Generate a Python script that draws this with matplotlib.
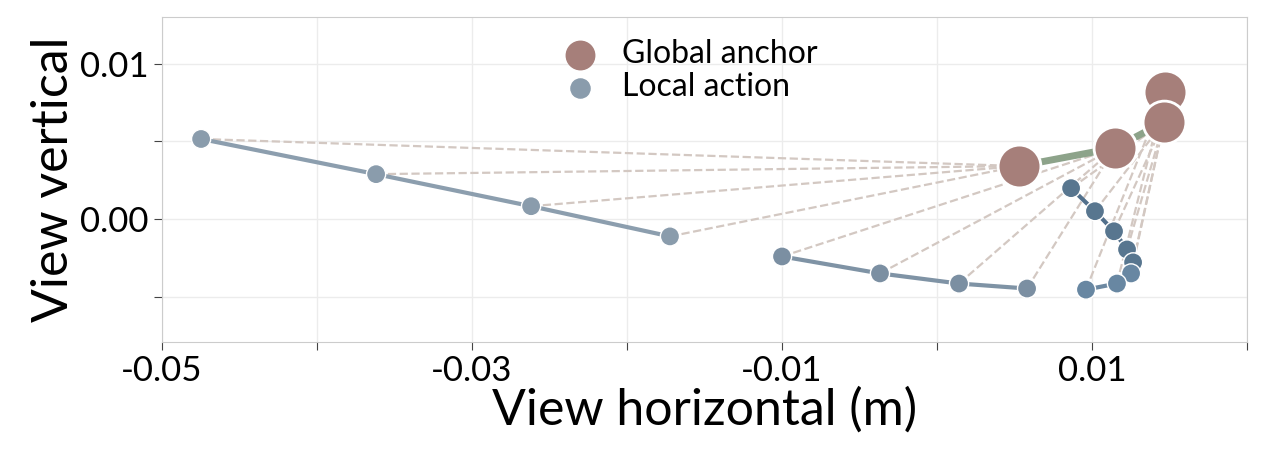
import numpy as np
import matplotlib.pyplot as plt

plt.rcParams['font.family'] = ['Lato', 'DejaVu Sans']

# global anchors
anchor_x = [0.00529, 0.01148, 0.01471, 0.01465]
anchor_y = [0.00342, 0.00458, 0.00819, 0.00626]

# local actions, three chunks, plus which anchor each one hangs on
loc1_x = [-0.04748, -0.03619, -0.02619, -0.01723]
loc1_y = [0.00516, 0.00290, 0.00084, -0.00110]
loc2_x = [-0.0100, -0.00368, 0.00142, 0.00581]
loc2_y = [-0.00239, -0.00348, -0.00413, -0.00445]
loc3_x = [0.00865, 0.01019, 0.01142, 0.01226, 0.01265, 0.01252, 0.01161, 0.00961]
loc3_y = [0.00200, 0.00052, -0.00077, -0.00194, -0.00277, -0.00348, -0.00413, -0.00452]
link1 = [0, 0, 0, 0]
link2 = [1, 1, 1, 1]
link3 = [3, 3, 3, 3, 3, 3, 2, 2]

fig = plt.figure(figsize=(12.66, 4.72), dpi=100)
ax = fig.add_axes([0.128, 0.275, 0.857, 0.689])

dash = '#d3c8c2'
for xs, ys, links in [(loc1_x, loc1_y, link1), (loc2_x, loc2_y, link2), (loc3_x, loc3_y, link3)]:
    for x, y, k in zip(xs, ys, links):
        ax.plot([x, anchor_x[k]], [y, anchor_y[k]], ls='--', color=dash, lw=1.6, zorder=1)

ax.plot(anchor_x[:2], anchor_y[:2], color='#8da38a', lw=5, zorder=2)
ax.plot([anchor_x[1], anchor_x[3]], [anchor_y[1], anchor_y[3]], color='#8da38a', lw=5, zorder=2)

ax.plot(loc1_x, loc1_y, color='#8c9eae', lw=3, zorder=3)
ax.plot(loc2_x, loc2_y, color='#7f93a5', lw=3, zorder=3)
ax.plot(loc3_x[:6], loc3_y[:6], color='#52708c', lw=3, zorder=3)
ax.plot(loc3_x[5:], loc3_y[5:], color='#6c88a1', lw=3, zorder=3)

allx = loc1_x + loc2_x + loc3_x
ally = loc1_y + loc2_y + loc3_y
cols = ['#8a9cac'] * 4 + ['#7b8fa2'] * 4 + ['#58768f'] * 5 + ['#6887a2'] * 3
ax.scatter(allx, ally, s=190, c=cols, edgecolors='white', linewidths=1, zorder=4)
ax.scatter(anchor_x, anchor_y, s=950, c='#a67f7a', edgecolors='white', linewidths=2, zorder=5)

# legend handles
ax.scatter([], [], s=420, c='#a67f7a', label='Global anchor')
ax.scatter([], [], s=190, c='#8a9cac', label='Local action')
ax.legend(loc='upper center', bbox_to_anchor=(0.48, 1.02), frameon=False, fontsize=23,
          handletextpad=0.3, labelspacing=0.1)

ax.set_xlim(-0.05, 0.02)
ax.set_ylim(-0.0079, 0.013)
ax.set_xticks(np.arange(-0.05, 0.0201, 0.01))
ax.set_xticklabels(['-0.05', '', '-0.03', '', '-0.01', '', '0.01', ''])
ax.set_yticks([-0.005, 0, 0.005, 0.01])
ax.set_yticklabels(['', '0.00', '', '0.01'])
ax.tick_params(labelsize=25, length=6, color='#444444')
ax.grid(color='#ececec', lw=1)
ax.set_axisbelow(True)
for s in ax.spines.values():
    s.set_color('#cccccc')
ax.set_xlabel('View horizontal (m)', fontsize=36, labelpad=0)
ax.set_ylabel('View vertical', fontsize=36, labelpad=2)

fig.savefig('out.png', dpi=100)
